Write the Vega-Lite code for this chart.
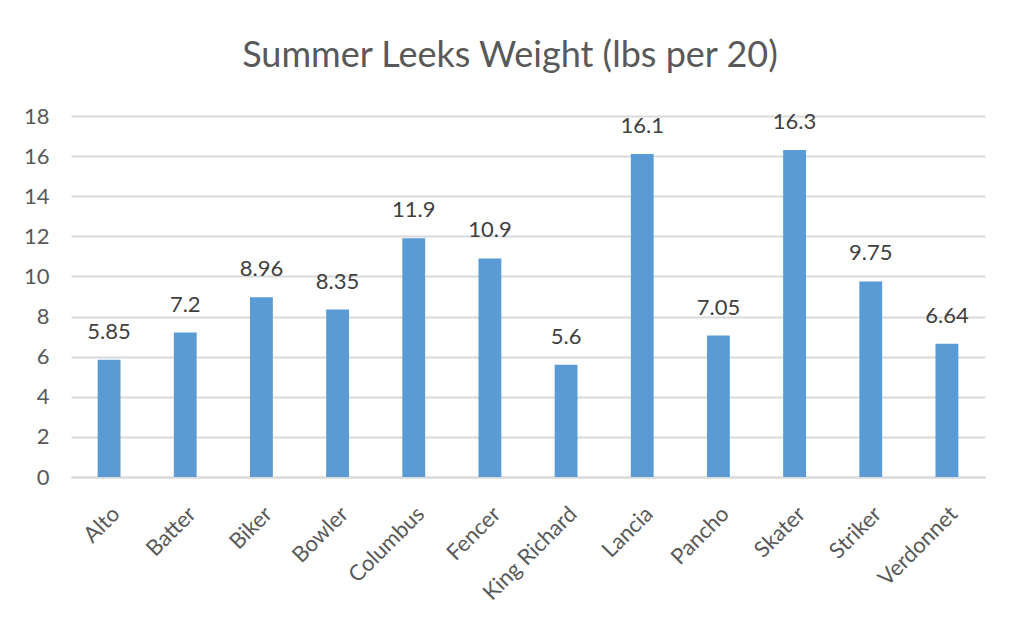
{
  "$schema": "https://vega.github.io/schema/vega-lite/v6.json",
  "autosize": "none",
  "width": 914,
  "height": 361,
  "padding": {"left": 71, "top": 116, "right": 28, "bottom": 158},
  "background": "white",
  "title": {
    "text": "Summer Leeks Weight (lbs per 20)",
    "fontSize": 36,
    "font": "Lato",
    "fontWeight": "normal",
    "color": "#595959",
    "anchor": "middle",
    "dx": -18,
    "offset": 30
  },
  "data": {
    "values": [
      {"variety": "Alto", "weight": 5.85},
      {"variety": "Batter", "weight": 7.2},
      {"variety": "Biker", "weight": 8.96},
      {"variety": "Bowler", "weight": 8.35},
      {"variety": "Columbus", "weight": 11.9},
      {"variety": "Fencer", "weight": 10.9},
      {"variety": "King Richard", "weight": 5.6},
      {"variety": "Lancia", "weight": 16.1},
      {"variety": "Pancho", "weight": 7.05},
      {"variety": "Skater", "weight": 16.3},
      {"variety": "Striker", "weight": 9.75},
      {"variety": "Verdonnet", "weight": 6.64}
    ]
  },
  "encoding": {
    "x": {
      "field": "variety",
      "type": "nominal",
      "sort": null,
      "scale": {"paddingInner": 0.7, "paddingOuter": 0.35},
      "axis": {
        "title": null,
        "labelAngle": -45,
        "labelFontSize": 22,
        "labelFont": "Lato",
        "labelColor": "#595959",
        "labelPadding": 26,
        "ticks": false,
        "domainColor": "#d9d9d9",
        "domainWidth": 2
      }
    },
    "y": {
      "field": "weight",
      "type": "quantitative",
      "scale": {"domain": [0, 18], "nice": false},
      "axis": {
        "title": null,
        "values": [0, 2, 4, 6, 8, 10, 12, 14, 16, 18],
        "labelFontSize": 22,
        "labelFont": "Lato",
        "labelColor": "#595959",
        "labelPadding": 22,
        "ticks": false,
        "domain": false,
        "gridColor": "#d9d9d9",
        "gridWidth": 2
      }
    }
  },
  "layer": [
    {"mark": {"type": "bar", "color": "#5B9BD5"}},
    {
      "mark": {"type": "text", "baseline": "bottom", "dy": -16, "fontSize": 22, "font": "Lato", "color": "#404040"},
      "encoding": {"text": {"field": "weight", "type": "quantitative"}}
    }
  ],
  "config": {"view": {"stroke": null}}
}
